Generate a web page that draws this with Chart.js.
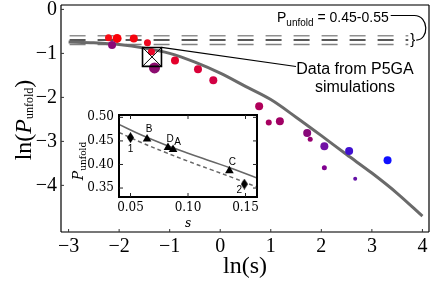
<!DOCTYPE html>
<html>
<head>
<meta charset="utf-8">
<script src="https://cdn.jsdelivr.net/npm/chart.js@4.4.0/dist/chart.umd.min.js"></script>
<style>
  html, body { margin: 0; padding: 0; background: #fff; }
  #wrap { position: relative; width: 443px; height: 281px; }
  #main { position: absolute; left: 0; top: 0; }
  #inset { position: absolute; left: 70px; top: 100px; }
</style>
</head>
<body>
<div id="wrap">
  <canvas id="main" width="443" height="281"></canvas>
  <canvas id="inset" width="195" height="135"></canvas>
</div>
<script>
// ---- main panel: P5GA simulation points, ln(s) vs ln(P_unfold)
const simLnS = [-2.21, -2.04, -1.71, -1.44, -2.14, -1.36, -1.30, -0.895, -0.44, -0.137,
                0.77, 0.96, 1.18, 1.72, 1.78, 2.06, 2.06, 2.55, 2.67, 3.31];
const simLnP = [-0.645, -0.66, -0.66, -0.76, -0.81, -0.96, -1.33, -1.16, -1.36, -1.61,
                -2.20, -2.57, -2.54, -2.81, -2.95, -3.11, -3.60, -3.22, -3.85, -3.43];
const simColors = ['#f80a14', '#fa0008', '#f4040e', '#ee0820', '#8a0a78', '#ea0628', '#8c0c70', '#e4002c', '#da0038', '#d20044',
                   '#b0005a', '#a80060', '#a00064', '#88087a', '#960070', '#7010a4', '#800090', '#4010d0', '#6410a6', '#1010ff'];
const simSizes = [3.5, 4.5, 4, 3.5, 4, 3.5, 5.5, 4, 4, 4,
                  4, 3, 4, 4, 2.5, 4, 2.5, 4, 2, 4];

// theory curve
const curveLnS = [-3, -2.5, -2, -1.5, -1, -0.5, 0, 0.5, 1, 1.5, 2, 2.5, 3, 3.5, 4];
const curveLnP = [-0.74, -0.76, -0.80, -0.88, -1.00, -1.20, -1.45, -1.75, -2.05, -2.45, -2.87, -3.30, -3.72, -4.18, -4.70];

// reference band P_unfold = 0.55 / 0.50 / 0.45
const refP = [0.55, 0.50, 0.45];
const refColors = ['#8f8f8f', '#222', '#808080'];
const refSpan = [-2.98, 3.72];

// highlighted simulation point (box with cross)
const boxLnS = [-1.35];
const boxLnP = [-1.08];

const mainXTicks = [-3, -2, -1, 0, 1, 2, 3, 4];
const mainYTicks = [-4, -3, -2, -1, 0];

// ---- inset: P_unfold vs s
const insetS = [0.04, 0.06, 0.08, 0.10, 0.12, 0.14, 0.16];
const insetSolid = [0.485, 0.462, 0.442, 0.424, 0.407, 0.390, 0.371];
const insetDashed = [0.468, 0.446, 0.426, 0.407, 0.389, 0.371, 0.352];
const triS = [0.0644, 0.0826, 0.087, 0.136];
const triP = [0.454, 0.436, 0.432, 0.3866];
const triNames = ['B', 'D', 'A', 'C'];
const diaS = [0.05, 0.149];
const diaP = [0.457, 0.3584];
const diaNames = ['1', '2'];
const insetXTicks = [0.05, 0.10, 0.15];
const insetYTicks = [0.35, 0.40, 0.45, 0.50];

const xy = (xs, ys) => xs.map((x, i) => ({ x: x, y: ys[i] }));
const minus = v => (v < 0 ? '\u2212' + Math.abs(v) : String(v));

// frame, callouts and the rich-text y title of the main panel
const mainDecor = {
  id: 'mainDecor',
  afterDraw(chart) {
    const ctx = chart.ctx;
    const a = chart.chartArea;
    const xs = chart.scales.x, ys = chart.scales.y;
    ctx.save();

    // frame: grey top/bottom, black sides
    ctx.strokeStyle = '#777';
    ctx.lineWidth = 2;
    ctx.beginPath();
    ctx.moveTo(a.left, a.top); ctx.lineTo(a.right, a.top);
    ctx.moveTo(a.left, a.bottom); ctx.lineTo(a.right, a.bottom);
    ctx.stroke();
    ctx.strokeStyle = '#000';
    ctx.lineWidth = 1.2;
    ctx.beginPath();
    ctx.moveTo(a.left, a.top); ctx.lineTo(a.left, a.bottom);
    ctx.moveTo(a.right, a.top); ctx.lineTo(a.right, a.bottom);
    ctx.stroke();

    // small inward ticks
    ctx.strokeStyle = '#333';
    ctx.lineWidth = 1;
    ctx.beginPath();
    mainXTicks.forEach(v => {
      const p = xs.getPixelForValue(v);
      ctx.moveTo(p, a.bottom); ctx.lineTo(p, a.bottom - 3);
    });
    mainYTicks.forEach(v => {
      const p = ys.getPixelForValue(v);
      ctx.moveTo(a.left, p); ctx.lineTo(a.left + 3, p);
    });
    ctx.stroke();

    // y title: ln(P_unfold), rotated
    ctx.translate(24, 120);
    ctx.rotate(-Math.PI / 2);
    ctx.fillStyle = '#000';
    ctx.textBaseline = 'alphabetic';
    const parts = [
      { t: 'ln(', f: '24px "Liberation Serif"', dy: 0 },
      { t: 'P', f: 'italic 24px "Liberation Serif"', dy: 0 },
      { t: 'unfold', f: '12px "Liberation Serif"', dy: 2 },
      { t: ')', f: '24px "Liberation Serif"', dy: 0 }
    ];
    let total = 0;
    parts.forEach(p => { ctx.font = p.f; p.w = ctx.measureText(p.t).width; total += p.w; });
    let cx = -total / 2;
    parts.forEach(p => {
      ctx.font = p.f;
      ctx.fillText(p.t, cx, 7 + p.dy);
      cx += p.w;
    });
    ctx.setTransform(1, 0, 0, 1, 0, 0);

    // label: P_unfold = 0.45-0.55
    ctx.fillStyle = '#000';
    ctx.textBaseline = 'alphabetic';
    let lx = 277;
    ctx.font = '14px "Liberation Sans"';
    ctx.fillText('P', lx, 21.5);
    lx += ctx.measureText('P').width;
    ctx.font = '10px "Liberation Sans"';
    ctx.fillText('unfold', lx, 26);
    lx += ctx.measureText('unfold').width;
    ctx.font = '14px "Liberation Sans"';
    ctx.fillText(' = 0.45-0.55', lx, 21.5);
    lx += ctx.measureText(' = 0.45-0.55').width;

    // curly connector and brace to the reference band
    const yTop = ys.getPixelForValue(Math.log(refP[0]));
    const yBot = ys.getPixelForValue(Math.log(refP[2]));
    const yMid = (yTop + yBot) / 2;
    const bx = xs.getPixelForValue(refSpan[1]) + 3;
    ctx.font = '15px "Liberation Sans"';
    ctx.textBaseline = 'middle';
    ctx.fillText('}', bx - 1, yMid);
    ctx.strokeStyle = '#000';
    ctx.lineWidth = 1.2;
    ctx.beginPath();
    ctx.moveTo(lx + 2, 15.5);
    ctx.lineTo(bx + 3, 15.5);
    ctx.bezierCurveTo(bx + 18, 15.5, bx + 18, yMid, bx + 5, yMid);
    ctx.stroke();

    // callout from the boxed point
    const px = xs.getPixelForValue(boxLnS[0]);
    const py = ys.getPixelForValue(boxLnP[0]);
    ctx.beginPath();
    ctx.moveTo(px + 9.5, py - 9.5);
    ctx.lineTo(296, 66.5);
    ctx.stroke();
    ctx.font = '16px "Liberation Sans"';
    ctx.textAlign = 'center';
    ctx.textBaseline = 'middle';
    ctx.fillText('Data from P5GA', 355, 70);
    ctx.fillText('simulations', 355, 87.5);
    ctx.restore();
  }
};

const mainChart = new Chart(document.getElementById('main').getContext('2d'), {
  type: 'scatter',
  data: {
    datasets: [
      {
        // boxed point
        data: xy(boxLnS, boxLnP),
        pointStyle: 'rect', pointRadius: 13.4,
        backgroundColor: 'rgba(0,0,0,0)', borderColor: '#000', borderWidth: 1.6,
        order: 0
      },
      {
        data: xy(boxLnS, boxLnP),
        pointStyle: 'crossRot', pointRadius: 13.4,
        borderColor: '#000', borderWidth: 1,
        order: 0
      },
      {
        data: xy(simLnS, simLnP),
        pointRadius: simSizes,
        backgroundColor: simColors, borderColor: simColors, borderWidth: 0,
        order: 1
      },
      {
        data: xy(curveLnS, curveLnP),
        showLine: true, pointRadius: 0,
        borderColor: '#6a6a6a', borderWidth: 3, tension: 0.4,
        cubicInterpolationMode: 'monotone',
        order: 2
      },
      ...refP.map((p, i) => ({
        data: refSpan.map(x => ({ x: x, y: Math.log(p) })),
        showLine: true, pointRadius: 0,
        borderColor: refColors[i], borderWidth: 1.5, borderDash: [16, 12],
        order: 3
      }))
    ]
  },
  options: {
    responsive: false,
    animation: false,
    events: [],
    layout: { padding: { left: 0, right: 14, top: 5, bottom: 0 }, autoPadding: false },
    plugins: { legend: { display: false }, tooltip: { enabled: false } },
    scales: {
      x: {
        type: 'linear', min: -3.15, max: 4.13,
        grid: { display: false, drawTicks: false }, border: { display: false },
        afterBuildTicks: s => { s.ticks = mainXTicks.map(v => ({ value: v })); },
        afterFit: s => { s.height = 49; },
        ticks: { color: '#000', padding: 3, font: { family: 'Liberation Serif', size: 20 }, callback: minus },
        title: { display: true, text: 'ln(s)', color: '#000', padding: { top: 0, bottom: 0 },
                 font: { family: 'Liberation Serif', size: 24 } }
      },
      y: {
        type: 'linear', min: -5.06, max: 0.1,
        grid: { display: false, drawTicks: false }, border: { display: false },
        afterBuildTicks: s => { s.ticks = mainYTicks.map(v => ({ value: v })); },
        afterFit: s => { s.width = 61; s.paddingTop = 0; s.paddingBottom = 0; },
        ticks: { color: '#000', padding: 4, font: { family: 'Liberation Serif', size: 20, lineHeight: 0.4 }, callback: minus }
      }
    }
  },
  plugins: [mainDecor]
});

// ---- inset
function diamondImg(w, h) {
  const c = document.createElement('canvas');
  c.width = w; c.height = h;
  const g = c.getContext('2d');
  g.fillStyle = '#000';
  g.beginPath();
  g.moveTo(w / 2, 0); g.lineTo(w, h / 2); g.lineTo(w / 2, h); g.lineTo(0, h / 2);
  g.closePath();
  g.fill();
  return c;
}

const insetDecor = {
  id: 'insetDecor',
  beforeDraw(chart) {
    const ctx = chart.ctx;
    const a = chart.chartArea;
    ctx.save();
    ctx.fillStyle = '#fff';
    ctx.fillRect(a.left, a.top, a.right - a.left, a.bottom - a.top);
    ctx.restore();
  },
  afterDraw(chart) {
    const ctx = chart.ctx;
    const a = chart.chartArea;
    const xs = chart.scales.x, ys = chart.scales.y;
    ctx.save();
    ctx.strokeStyle = '#000';
    ctx.lineWidth = 2;
    ctx.strokeRect(a.left, a.top, a.right - a.left, a.bottom - a.top);

    // inward ticks on all four sides
    ctx.lineWidth = 1;
    ctx.strokeStyle = '#222';
    ctx.beginPath();
    insetXTicks.forEach(v => {
      const p = xs.getPixelForValue(v);
      ctx.moveTo(p, a.bottom); ctx.lineTo(p, a.bottom - 4);
      ctx.moveTo(p, a.top); ctx.lineTo(p, a.top + 4);
    });
    insetYTicks.forEach(v => {
      const p = ys.getPixelForValue(v);
      ctx.moveTo(a.left, p); ctx.lineTo(a.left + 4, p);
      ctx.moveTo(a.right, p); ctx.lineTo(a.right - 4, p);
    });
    ctx.stroke();

    // point names
    ctx.fillStyle = '#000';
    ctx.font = '10px "Liberation Sans"';
    ctx.textAlign = 'center';
    ctx.textBaseline = 'middle';
    const triOff = [[2, -10], [2, -8], [4.5, -7], [3, -9]];
    triNames.forEach((n, i) => {
      ctx.fillText(n, xs.getPixelForValue(triS[i]) + triOff[i][0], ys.getPixelForValue(triP[i]) + triOff[i][1]);
    });
    const diaOff = [[0, 12], [-5, 6]];
    diaNames.forEach((n, i) => {
      ctx.fillText(n, xs.getPixelForValue(diaS[i]) + diaOff[i][0], ys.getPixelForValue(diaP[i]) + diaOff[i][1]);
    });

    // y title: P_unfold, rotated
    ctx.translate(8, 61);
    ctx.rotate(-Math.PI / 2);
    ctx.textAlign = 'left';
    ctx.textBaseline = 'alphabetic';
    ctx.font = 'italic 14px "DejaVu Serif"';
    const wP = ctx.measureText('P').width;
    ctx.font = '9px "DejaVu Serif"';
    const wSub = ctx.measureText('unfold').width;
    const x0 = -(wP + wSub) / 2;
    ctx.font = 'italic 14px "DejaVu Serif"';
    ctx.fillText('P', x0, 5);
    ctx.font = '9px "DejaVu Serif"';
    ctx.fillText('unfold', x0 + wP, 8);
    ctx.restore();
  }
};

const insetChart = new Chart(document.getElementById('inset').getContext('2d'), {
  type: 'scatter',
  data: {
    datasets: [
      {
        data: xy(triS, triP),
        pointStyle: 'triangle', pointRadius: 5,
        backgroundColor: '#000', borderColor: '#000', borderWidth: 0,
        order: 0
      },
      {
        data: xy(diaS, diaP),
        pointStyle: diamondImg(7, 11), pointRadius: 5,
        order: 0
      },
      {
        data: xy(insetS, insetSolid),
        showLine: true, pointRadius: 0, tension: 0.4,
        borderColor: '#666', borderWidth: 1.5,
        order: 1
      },
      {
        data: xy(insetS, insetDashed),
        showLine: true, pointRadius: 0, tension: 0.4,
        borderColor: '#666', borderWidth: 1.5, borderDash: [4, 3],
        order: 1
      }
    ]
  },
  options: {
    responsive: false,
    animation: false,
    events: [],
    layout: { padding: { left: 0, right: 8, top: 15, bottom: 0 }, autoPadding: false },
    plugins: { legend: { display: false }, tooltip: { enabled: false } },
    scales: {
      x: {
        type: 'linear', min: 0.04, max: 0.16,
        grid: { display: false, drawTicks: false }, border: { display: false },
        afterBuildTicks: s => { s.ticks = insetXTicks.map(v => ({ value: v })); },
        afterFit: s => { s.height = 38; },
        ticks: { color: '#000', padding: 4, font: { family: 'DejaVu Serif', size: 12 }, callback: v => v.toFixed(2) },
        title: { display: true, text: 's', color: '#000', padding: { top: 0, bottom: 4 },
                 font: { family: 'DejaVu Serif', size: 12, style: 'italic' } }
      },
      y: {
        type: 'linear', min: 0.331, max: 0.505,
        grid: { display: false, drawTicks: false }, border: { display: false },
        afterBuildTicks: s => { s.ticks = insetYTicks.map(v => ({ value: v })); },
        afterFit: s => { s.width = 49; },
        ticks: { color: '#000', padding: 5, font: { family: 'DejaVu Serif', size: 12 }, callback: v => v.toFixed(2) }
      }
    }
  },
  plugins: [insetDecor]
});
</script>
</body>
</html>
